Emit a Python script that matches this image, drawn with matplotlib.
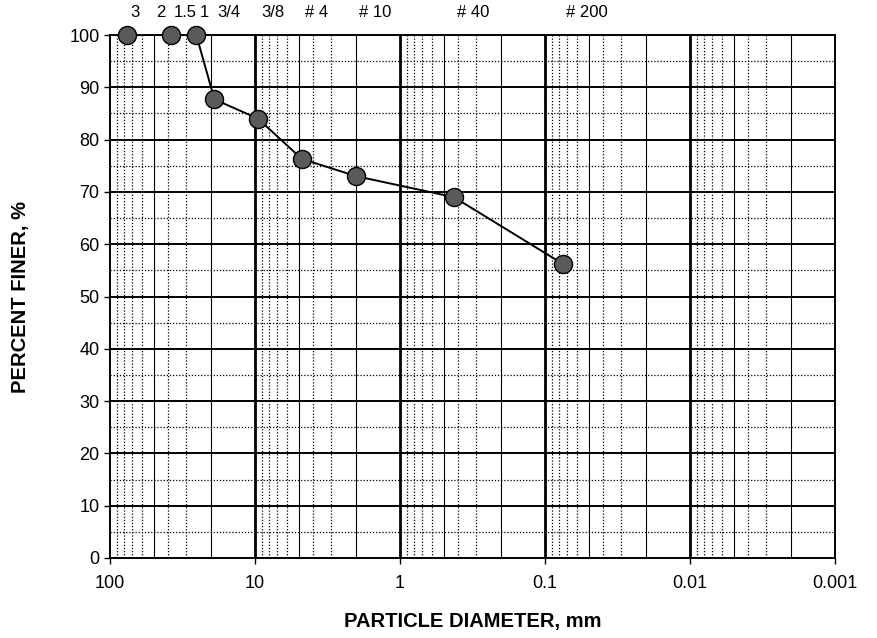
import matplotlib
matplotlib.use("Agg")
import matplotlib.pyplot as plt
import matplotlib.transforms as mtransforms
import numpy as np

plt.rcParams['font.family'] = ['Liberation Sans', 'DejaVu Sans']

# === DATA ===
diameters = [76.2, 38.1, 25.4, 19.05, 9.525, 4.75, 2.0, 0.425, 0.075]
percent_finer = [100, 100, 100, 87.7, 84.0, 76.3, 73.0, 69.0, 56.2]

sieve_labels = ['3', '2', '1.5', '1', '3/4', '3/8', '# 4', '# 10', '# 40', '# 200']
sieve_sizes = [76.2, 50.8, 38.1, 25.4, 19.05, 9.525, 4.75, 2.0, 0.425, 0.075]

x_ticks = [100, 10, 1, 0.1, 0.01, 0.001]
x_tick_labels = ['100', '10', '1', '0.1', '0.01', '0.001']
y_ticks = list(range(0, 101, 10))

fig = plt.figure(figsize=(8.78, 6.38), dpi=100)
ax = fig.add_axes([0.1253, 0.1254, 0.8257, 0.8197])

ax.set_xscale('log')
ax.set_xlim(100, 0.001)
ax.set_ylim(0, 100)

# grid: decades thick, subdivisions thin / dotted
for dec in [100, 10, 1, 0.1, 0.01]:
    for k in range(2, 10):
        xv = dec / 10 * k
        if k in (2, 5):
            ax.axvline(xv, color='black', lw=0.8, ls='-', zorder=1)
        else:
            ax.axvline(xv, color='black', lw=0.9, ls=(0, (1, 1.5)), zorder=1)
for xv in x_ticks[1:-1]:
    ax.axvline(xv, color='black', lw=2.0, zorder=1)
for yv in y_ticks[1:-1]:
    ax.axhline(yv, color='black', lw=1.4, zorder=1)
for yv in range(5, 100, 10):
    ax.axhline(yv, color='black', lw=0.9, ls=(0, (1, 1.5)), zorder=1)

# curve
ax.plot(diameters, percent_finer, color='black', lw=1.4, zorder=3)
ax.plot(diameters, percent_finer, ls='none', marker='o', markersize=13,
        markerfacecolor='#5a5a5a', markeredgecolor='black', markeredgewidth=1.0,
        zorder=4, clip_on=False)

ax.set_xticks(x_ticks)
ax.set_xticklabels(x_tick_labels)
ax.minorticks_off()
ax.set_yticks(y_ticks)
ax.tick_params(axis='both', labelsize=13, length=4, width=1, direction='out')
ax.tick_params(axis='x', pad=8)
for sp in ax.spines.values():
    sp.set_linewidth(1.4)

# sieve labels above the chart
off = mtransforms.offset_copy(ax.get_xaxis_transform(), fig=fig, x=3, y=0, units='dots')
for lab, s in zip(sieve_labels, sieve_sizes):
    ax.text(s, 1.044, lab, transform=off, ha='left', va='center', fontsize=12)

ax.set_xlabel('PARTICLE DIAMETER, mm', fontsize=14.5, fontweight='bold', labelpad=15)
ax.set_ylabel('PERCENT FINER, %', fontsize=14.5, fontweight='bold', labelpad=28)

fig.savefig('out.png', dpi=100)
